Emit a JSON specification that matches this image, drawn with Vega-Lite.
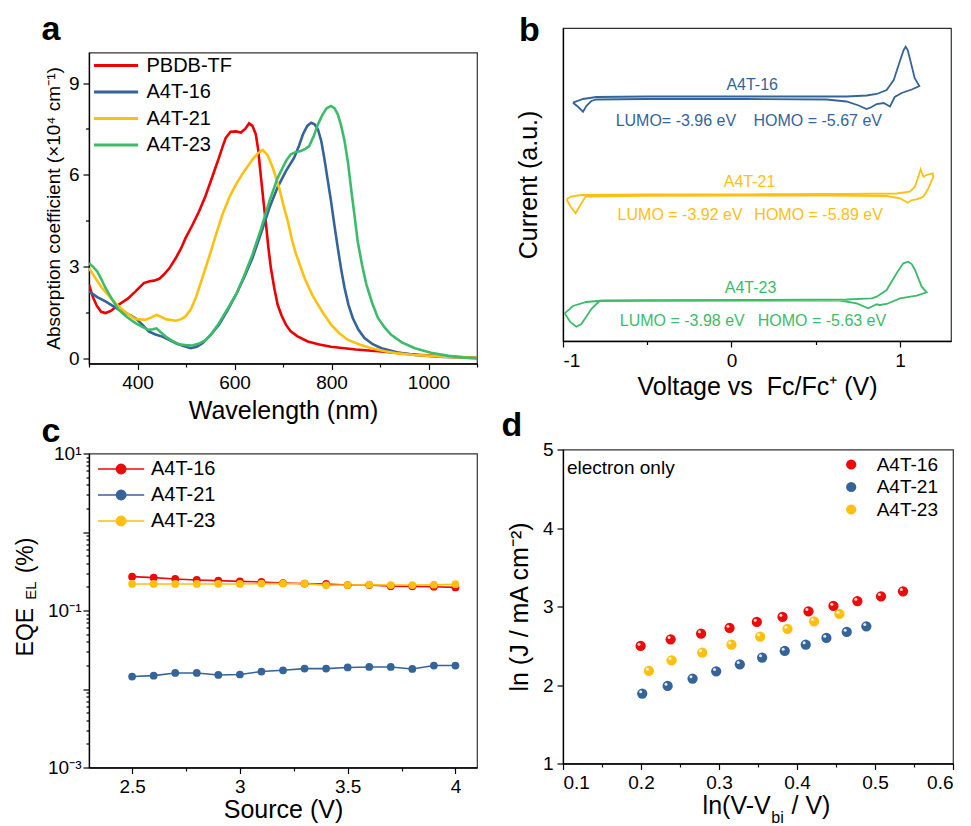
{
  "$schema": "https://vega.github.io/schema/vega-lite/v6.json",
  "padding": {"left": 13, "top": 4.5, "right": 2, "bottom": 1},
  "config": {
    "font": "Liberation Sans",
    "view": {"stroke": "#333", "strokeWidth": 1.2},
    "axis": {"grid": false, "domainColor": "#000", "domainWidth": 1.3, "tickColor": "#000", "tickWidth": 1.2, "labelColor": "#000", "titleColor": "#000", "labelFontSize": 19, "titleFontSize": 25, "titleFontWeight": "normal", "labelPadding": 4},
    "legend": {"labelFontSize": 20, "labelColor": "#000"},
    "title": {"color": "#000", "fontSize": 34, "fontWeight": "bold", "anchor": "start", "frame": "bounds"}
  },
  "datasets": {
    "abs": [
      {"s":"PBDB-TF","nm":300,"v":2.41},{"s":"PBDB-TF","nm":308,"v":2.0},{"s":"PBDB-TF","nm":316,"v":1.72},{"s":"PBDB-TF","nm":325,"v":1.52},{"s":"PBDB-TF","nm":334,"v":1.48},{"s":"PBDB-TF","nm":345,"v":1.55},{"s":"PBDB-TF","nm":361,"v":1.75},{"s":"PBDB-TF","nm":380,"v":1.95},{"s":"PBDB-TF","nm":396,"v":2.19},{"s":"PBDB-TF","nm":413,"v":2.46},{"s":"PBDB-TF","nm":425,"v":2.52},{"s":"PBDB-TF","nm":434,"v":2.54},{"s":"PBDB-TF","nm":445,"v":2.6},{"s":"PBDB-TF","nm":454,"v":2.73},{"s":"PBDB-TF","nm":466,"v":2.95},{"s":"PBDB-TF","nm":479,"v":3.28},{"s":"PBDB-TF","nm":490,"v":3.6},{"s":"PBDB-TF","nm":499,"v":3.93},{"s":"PBDB-TF","nm":513,"v":4.35},{"s":"PBDB-TF","nm":527,"v":4.81},{"s":"PBDB-TF","nm":540,"v":5.3},{"s":"PBDB-TF","nm":551,"v":5.79},{"s":"PBDB-TF","nm":560,"v":6.2},{"s":"PBDB-TF","nm":568,"v":6.56},{"s":"PBDB-TF","nm":575,"v":6.9},{"s":"PBDB-TF","nm":582,"v":7.21},{"s":"PBDB-TF","nm":592,"v":7.41},{"s":"PBDB-TF","nm":603,"v":7.42},{"s":"PBDB-TF","nm":613,"v":7.38},{"s":"PBDB-TF","nm":622,"v":7.5},{"s":"PBDB-TF","nm":630,"v":7.68},{"s":"PBDB-TF","nm":637,"v":7.6},{"s":"PBDB-TF","nm":644,"v":7.32},{"s":"PBDB-TF","nm":649,"v":6.8},{"s":"PBDB-TF","nm":654,"v":6.01},{"s":"PBDB-TF","nm":660,"v":5.1},{"s":"PBDB-TF","nm":665,"v":4.37},{"s":"PBDB-TF","nm":670,"v":3.6},{"s":"PBDB-TF","nm":675,"v":2.95},{"s":"PBDB-TF","nm":682,"v":2.3},{"s":"PBDB-TF","nm":689,"v":1.75},{"s":"PBDB-TF","nm":697,"v":1.4},{"s":"PBDB-TF","nm":706,"v":1.1},{"s":"PBDB-TF","nm":716,"v":0.88},{"s":"PBDB-TF","nm":730,"v":0.72},{"s":"PBDB-TF","nm":751,"v":0.55},{"s":"PBDB-TF","nm":775,"v":0.45},{"s":"PBDB-TF","nm":799,"v":0.38},{"s":"PBDB-TF","nm":850,"v":0.29},{"s":"PBDB-TF","nm":903,"v":0.22},{"s":"PBDB-TF","nm":950,"v":0.15},{"s":"PBDB-TF","nm":985,"v":0.11},{"s":"PBDB-TF","nm":1040,"v":0.06},{"s":"PBDB-TF","nm":1100,"v":0.02},
      {"s":"A4T-16","nm":300,"v":2.19},{"s":"A4T-16","nm":317,"v":2.0},{"s":"A4T-16","nm":334,"v":1.86},{"s":"A4T-16","nm":348,"v":1.72},{"s":"A4T-16","nm":361,"v":1.59},{"s":"A4T-16","nm":380,"v":1.45},{"s":"A4T-16","nm":396,"v":1.31},{"s":"A4T-16","nm":410,"v":1.1},{"s":"A4T-16","nm":423,"v":0.88},{"s":"A4T-16","nm":437,"v":0.78},{"s":"A4T-16","nm":451,"v":0.71},{"s":"A4T-16","nm":465,"v":0.6},{"s":"A4T-16","nm":479,"v":0.49},{"s":"A4T-16","nm":495,"v":0.4},{"s":"A4T-16","nm":510,"v":0.33},{"s":"A4T-16","nm":522,"v":0.38},{"s":"A4T-16","nm":534,"v":0.49},{"s":"A4T-16","nm":550,"v":0.75},{"s":"A4T-16","nm":568,"v":1.1},{"s":"A4T-16","nm":585,"v":1.55},{"s":"A4T-16","nm":603,"v":2.08},{"s":"A4T-16","nm":620,"v":2.65},{"s":"A4T-16","nm":637,"v":3.28},{"s":"A4T-16","nm":655,"v":4.1},{"s":"A4T-16","nm":672,"v":4.92},{"s":"A4T-16","nm":689,"v":5.6},{"s":"A4T-16","nm":706,"v":6.12},{"s":"A4T-16","nm":723,"v":6.56},{"s":"A4T-16","nm":733,"v":6.95},{"s":"A4T-16","nm":741,"v":7.32},{"s":"A4T-16","nm":750,"v":7.6},{"s":"A4T-16","nm":758,"v":7.7},{"s":"A4T-16","nm":765,"v":7.65},{"s":"A4T-16","nm":772,"v":7.49},{"s":"A4T-16","nm":779,"v":7.1},{"s":"A4T-16","nm":785,"v":6.56},{"s":"A4T-16","nm":792,"v":5.85},{"s":"A4T-16","nm":799,"v":5.14},{"s":"A4T-16","nm":806,"v":4.35},{"s":"A4T-16","nm":813,"v":3.61},{"s":"A4T-16","nm":820,"v":2.9},{"s":"A4T-16","nm":827,"v":2.3},{"s":"A4T-16","nm":835,"v":1.75},{"s":"A4T-16","nm":844,"v":1.31},{"s":"A4T-16","nm":855,"v":0.95},{"s":"A4T-16","nm":868,"v":0.66},{"s":"A4T-16","nm":885,"v":0.46},{"s":"A4T-16","nm":903,"v":0.33},{"s":"A4T-16","nm":935,"v":0.2},{"s":"A4T-16","nm":972,"v":0.11},{"s":"A4T-16","nm":1020,"v":0.05},{"s":"A4T-16","nm":1100,"v":0.0},
      {"s":"A4T-21","nm":300,"v":2.95},{"s":"A4T-21","nm":314,"v":2.6},{"s":"A4T-21","nm":327,"v":2.3},{"s":"A4T-21","nm":344,"v":1.98},{"s":"A4T-21","nm":361,"v":1.7},{"s":"A4T-21","nm":378,"v":1.47},{"s":"A4T-21","nm":396,"v":1.28},{"s":"A4T-21","nm":416,"v":1.26},{"s":"A4T-21","nm":428,"v":1.33},{"s":"A4T-21","nm":439,"v":1.42},{"s":"A4T-21","nm":448,"v":1.36},{"s":"A4T-21","nm":458,"v":1.28},{"s":"A4T-21","nm":479,"v":1.23},{"s":"A4T-21","nm":490,"v":1.28},{"s":"A4T-21","nm":499,"v":1.37},{"s":"A4T-21","nm":510,"v":1.6},{"s":"A4T-21","nm":520,"v":1.97},{"s":"A4T-21","nm":533,"v":2.6},{"s":"A4T-21","nm":547,"v":3.28},{"s":"A4T-21","nm":561,"v":4.0},{"s":"A4T-21","nm":575,"v":4.7},{"s":"A4T-21","nm":589,"v":5.25},{"s":"A4T-21","nm":603,"v":5.69},{"s":"A4T-21","nm":620,"v":6.12},{"s":"A4T-21","nm":637,"v":6.5},{"s":"A4T-21","nm":648,"v":6.7},{"s":"A4T-21","nm":658,"v":6.81},{"s":"A4T-21","nm":668,"v":6.65},{"s":"A4T-21","nm":679,"v":6.23},{"s":"A4T-21","nm":692,"v":5.57},{"s":"A4T-21","nm":701,"v":5.0},{"s":"A4T-21","nm":710,"v":4.48},{"s":"A4T-21","nm":718,"v":3.9},{"s":"A4T-21","nm":727,"v":3.4},{"s":"A4T-21","nm":745,"v":2.6},{"s":"A4T-21","nm":761,"v":2.05},{"s":"A4T-21","nm":782,"v":1.5},{"s":"A4T-21","nm":799,"v":1.1},{"s":"A4T-21","nm":816,"v":0.82},{"s":"A4T-21","nm":834,"v":0.6},{"s":"A4T-21","nm":858,"v":0.45},{"s":"A4T-21","nm":882,"v":0.33},{"s":"A4T-21","nm":910,"v":0.23},{"s":"A4T-21","nm":937,"v":0.16},{"s":"A4T-21","nm":970,"v":0.11},{"s":"A4T-21","nm":1006,"v":0.08},{"s":"A4T-21","nm":1050,"v":0.04},{"s":"A4T-21","nm":1100,"v":0.02},
      {"s":"A4T-23","nm":300,"v":3.11},{"s":"A4T-23","nm":308,"v":3.0},{"s":"A4T-23","nm":317,"v":2.84},{"s":"A4T-23","nm":325,"v":2.6},{"s":"A4T-23","nm":334,"v":2.3},{"s":"A4T-23","nm":348,"v":1.92},{"s":"A4T-23","nm":361,"v":1.59},{"s":"A4T-23","nm":378,"v":1.35},{"s":"A4T-23","nm":396,"v":1.15},{"s":"A4T-23","nm":410,"v":1.03},{"s":"A4T-23","nm":423,"v":0.93},{"s":"A4T-23","nm":432,"v":0.95},{"s":"A4T-23","nm":439,"v":0.98},{"s":"A4T-23","nm":448,"v":0.85},{"s":"A4T-23","nm":458,"v":0.71},{"s":"A4T-23","nm":471,"v":0.58},{"s":"A4T-23","nm":485,"v":0.46},{"s":"A4T-23","nm":499,"v":0.43},{"s":"A4T-23","nm":513,"v":0.42},{"s":"A4T-23","nm":527,"v":0.48},{"s":"A4T-23","nm":541,"v":0.6},{"s":"A4T-23","nm":555,"v":0.85},{"s":"A4T-23","nm":568,"v":1.15},{"s":"A4T-23","nm":585,"v":1.6},{"s":"A4T-23","nm":603,"v":2.08},{"s":"A4T-23","nm":620,"v":2.7},{"s":"A4T-23","nm":637,"v":3.39},{"s":"A4T-23","nm":655,"v":4.25},{"s":"A4T-23","nm":672,"v":5.14},{"s":"A4T-23","nm":689,"v":5.9},{"s":"A4T-23","nm":706,"v":6.45},{"s":"A4T-23","nm":716,"v":6.67},{"s":"A4T-23","nm":727,"v":6.75},{"s":"A4T-23","nm":737,"v":6.78},{"s":"A4T-23","nm":746,"v":6.85},{"s":"A4T-23","nm":754,"v":6.94},{"s":"A4T-23","nm":763,"v":7.25},{"s":"A4T-23","nm":772,"v":7.65},{"s":"A4T-23","nm":781,"v":7.95},{"s":"A4T-23","nm":790,"v":8.18},{"s":"A4T-23","nm":799,"v":8.25},{"s":"A4T-23","nm":806,"v":8.18},{"s":"A4T-23","nm":813,"v":7.98},{"s":"A4T-23","nm":820,"v":7.6},{"s":"A4T-23","nm":827,"v":7.1},{"s":"A4T-23","nm":834,"v":6.4},{"s":"A4T-23","nm":841,"v":5.47},{"s":"A4T-23","nm":848,"v":4.6},{"s":"A4T-23","nm":854,"v":3.83},{"s":"A4T-23","nm":863,"v":3.05},{"s":"A4T-23","nm":872,"v":2.41},{"s":"A4T-23","nm":884,"v":1.8},{"s":"A4T-23","nm":896,"v":1.31},{"s":"A4T-23","nm":910,"v":1.0},{"s":"A4T-23","nm":923,"v":0.77},{"s":"A4T-23","nm":945,"v":0.52},{"s":"A4T-23","nm":972,"v":0.33},{"s":"A4T-23","nm":1005,"v":0.18},{"s":"A4T-23","nm":1041,"v":0.08},{"s":"A4T-23","nm":1070,"v":0.03},{"s":"A4T-23","nm":1100,"v":0.0}
    ],
    "cv": [
      {"s":"A4T-16","k":1,"V":-0.941,"I":238.3},{"s":"A4T-16","k":2,"V":-0.881,"I":242},{"s":"A4T-16","k":3,"V":-0.802,"I":244},{"s":"A4T-16","k":4,"V":-0.505,"I":244.5},{"s":"A4T-16","k":5,"V":0.089,"I":244.5},{"s":"A4T-16","k":6,"V":0.683,"I":244.5},{"s":"A4T-16","k":7,"V":0.802,"I":245.5},{"s":"A4T-16","k":8,"V":0.862,"I":247},{"s":"A4T-16","k":9,"V":0.921,"I":251},{"s":"A4T-16","k":10,"V":0.963,"I":261},{"s":"A4T-16","k":11,"V":0.998,"I":279},{"s":"A4T-16","k":12,"V":1.022,"I":291},{"s":"A4T-16","k":13,"V":1.034,"I":294.3},{"s":"A4T-16","k":14,"V":1.046,"I":291},{"s":"A4T-16","k":15,"V":1.064,"I":279},{"s":"A4T-16","k":16,"V":1.087,"I":263},{"s":"A4T-16","k":17,"V":1.115,"I":255},{"s":"A4T-16","k":18,"V":1.07,"I":251.5},{"s":"A4T-16","k":19,"V":1.01,"I":248},{"s":"A4T-16","k":20,"V":0.969,"I":244},{"s":"A4T-16","k":21,"V":0.941,"I":234.5},{"s":"A4T-16","k":22,"V":0.903,"I":238},{"s":"A4T-16","k":23,"V":0.862,"I":237},{"s":"A4T-16","k":24,"V":0.832,"I":234},{"s":"A4T-16","k":25,"V":0.802,"I":232},{"s":"A4T-16","k":26,"V":0.755,"I":235.5},{"s":"A4T-16","k":27,"V":0.683,"I":239.5},{"s":"A4T-16","k":28,"V":0.564,"I":241.5},{"s":"A4T-16","k":29,"V":0.089,"I":242},{"s":"A4T-16","k":30,"V":-0.505,"I":242},{"s":"A4T-16","k":31,"V":-0.802,"I":241.5},{"s":"A4T-16","k":32,"V":-0.832,"I":240},{"s":"A4T-16","k":33,"V":-0.862,"I":235},{"s":"A4T-16","k":34,"V":-0.881,"I":229.3},{"s":"A4T-16","k":35,"V":-0.909,"I":234},{"s":"A4T-16","k":36,"V":-0.941,"I":238.3},
      {"s":"A4T-21","k":1,"V":-0.98,"I":141.7},{"s":"A4T-21","k":2,"V":-0.951,"I":144.5},{"s":"A4T-21","k":3,"V":-0.891,"I":146},{"s":"A4T-21","k":4,"V":-0.505,"I":146.5},{"s":"A4T-21","k":5,"V":0.089,"I":146.7},{"s":"A4T-21","k":6,"V":0.683,"I":147},{"s":"A4T-21","k":7,"V":0.98,"I":147.5},{"s":"A4T-21","k":8,"V":1.059,"I":149.3},{"s":"A4T-21","k":9,"V":1.089,"I":154.3},{"s":"A4T-21","k":10,"V":1.109,"I":164.3},{"s":"A4T-21","k":11,"V":1.123,"I":171.7},{"s":"A4T-21","k":12,"V":1.139,"I":164.3},{"s":"A4T-21","k":13,"V":1.159,"I":166},{"s":"A4T-21","k":14,"V":1.194,"I":167.7},{"s":"A4T-21","k":15,"V":1.198,"I":164.3},{"s":"A4T-21","k":16,"V":1.169,"I":152.7},{"s":"A4T-21","k":17,"V":1.139,"I":144.3},{"s":"A4T-21","k":18,"V":1.099,"I":141.7},{"s":"A4T-21","k":19,"V":1.07,"I":141},{"s":"A4T-21","k":20,"V":1.046,"I":138.3},{"s":"A4T-21","k":21,"V":1.0,"I":142.7},{"s":"A4T-21","k":22,"V":0.921,"I":145},{"s":"A4T-21","k":23,"V":0.564,"I":145.3},{"s":"A4T-21","k":24,"V":0.089,"I":145.3},{"s":"A4T-21","k":25,"V":-0.505,"I":145.2},{"s":"A4T-21","k":26,"V":-0.866,"I":144.3},{"s":"A4T-21","k":27,"V":-0.897,"I":136},{"s":"A4T-21","k":28,"V":-0.925,"I":127.7},{"s":"A4T-21","k":29,"V":-0.957,"I":135},{"s":"A4T-21","k":30,"V":-0.98,"I":141.7},
      {"s":"A4T-23","k":1,"V":-0.99,"I":27.7},{"s":"A4T-23","k":2,"V":-0.941,"I":35},{"s":"A4T-23","k":3,"V":-0.862,"I":39},{"s":"A4T-23","k":4,"V":-0.762,"I":40.5},{"s":"A4T-23","k":5,"V":-0.505,"I":40.8},{"s":"A4T-23","k":6,"V":0.089,"I":41},{"s":"A4T-23","k":7,"V":0.683,"I":41.5},{"s":"A4T-23","k":8,"V":0.832,"I":42.7},{"s":"A4T-23","k":9,"V":0.862,"I":44.3},{"s":"A4T-23","k":10,"V":0.921,"I":51},{"s":"A4T-23","k":11,"V":0.98,"I":67.7},{"s":"A4T-23","k":12,"V":1.02,"I":77.7},{"s":"A4T-23","k":13,"V":1.05,"I":79.3},{"s":"A4T-23","k":14,"V":1.07,"I":77},{"s":"A4T-23","k":15,"V":1.089,"I":71},{"s":"A4T-23","k":16,"V":1.129,"I":54.3},{"s":"A4T-23","k":17,"V":1.159,"I":48.7},{"s":"A4T-23","k":18,"V":1.099,"I":45.3},{"s":"A4T-23","k":19,"V":1.0,"I":42.7},{"s":"A4T-23","k":20,"V":0.921,"I":37},{"s":"A4T-23","k":21,"V":0.881,"I":36},{"s":"A4T-23","k":22,"V":0.862,"I":36.7},{"s":"A4T-23","k":23,"V":0.812,"I":32.7},{"s":"A4T-23","k":24,"V":0.743,"I":37.7},{"s":"A4T-23","k":25,"V":0.644,"I":40.5},{"s":"A4T-23","k":26,"V":0.564,"I":40.5},{"s":"A4T-23","k":27,"V":0.089,"I":40.3},{"s":"A4T-23","k":28,"V":-0.505,"I":40.2},{"s":"A4T-23","k":29,"V":-0.783,"I":40},{"s":"A4T-23","k":30,"V":-0.832,"I":32},{"s":"A4T-23","k":31,"V":-0.862,"I":24.3},{"s":"A4T-23","k":32,"V":-0.891,"I":17},{"s":"A4T-23","k":33,"V":-0.921,"I":14.3},{"s":"A4T-23","k":34,"V":-0.957,"I":19},{"s":"A4T-23","k":35,"V":-0.99,"I":27.7}
    ],
    "cvlabels": [
      {"s":"A4T-16","t":"A4T-16","V":0.123,"I":256},{"s":"A4T-16","t":"LUMO= -3.96 eV","V":-0.33,"I":220.3},{"s":"A4T-16","t":"HOMO = -5.67 eV","V":0.512,"I":220.3},
      {"s":"A4T-21","t":"A4T-21","V":0.107,"I":159.3},{"s":"A4T-21","t":"LUMO = -3.92 eV","V":-0.305,"I":126},{"s":"A4T-21","t":"HOMO = -5.89 eV","V":0.517,"I":126},
      {"s":"A4T-23","t":"A4T-23","V":0.113,"I":53},{"s":"A4T-23","t":"LUMO = -3.98 eV","V":-0.292,"I":20.3},{"s":"A4T-23","t":"HOMO = -5.63 eV","V":0.537,"I":20.3}
    ],
    "eqe": [
      {"s":"A4T-16","v":2.5,"e":0.270},{"s":"A4T-16","v":2.6,"e":0.262},{"s":"A4T-16","v":2.7,"e":0.252},{"s":"A4T-16","v":2.8,"e":0.245},{"s":"A4T-16","v":2.9,"e":0.240},{"s":"A4T-16","v":3.0,"e":0.235},{"s":"A4T-16","v":3.1,"e":0.231},{"s":"A4T-16","v":3.2,"e":0.224},{"s":"A4T-16","v":3.3,"e":0.220},{"s":"A4T-16","v":3.4,"e":0.218},{"s":"A4T-16","v":3.5,"e":0.211},{"s":"A4T-16","v":3.6,"e":0.211},{"s":"A4T-16","v":3.7,"e":0.204},{"s":"A4T-16","v":3.8,"e":0.203},{"s":"A4T-16","v":3.9,"e":0.201},{"s":"A4T-16","v":4.0,"e":0.197},
      {"s":"A4T-21","v":2.5,"e":0.0144},{"s":"A4T-21","v":2.6,"e":0.0148},{"s":"A4T-21","v":2.7,"e":0.0160},{"s":"A4T-21","v":2.8,"e":0.0160},{"s":"A4T-21","v":2.9,"e":0.0151},{"s":"A4T-21","v":3.0,"e":0.0153},{"s":"A4T-21","v":3.1,"e":0.0167},{"s":"A4T-21","v":3.2,"e":0.0173},{"s":"A4T-21","v":3.3,"e":0.0182},{"s":"A4T-21","v":3.4,"e":0.0182},{"s":"A4T-21","v":3.5,"e":0.0188},{"s":"A4T-21","v":3.6,"e":0.0191},{"s":"A4T-21","v":3.7,"e":0.0191},{"s":"A4T-21","v":3.8,"e":0.0180},{"s":"A4T-21","v":3.9,"e":0.0199},{"s":"A4T-21","v":4.0,"e":0.0199},
      {"s":"A4T-23","v":2.5,"e":0.218},{"s":"A4T-23","v":2.6,"e":0.218},{"s":"A4T-23","v":2.7,"e":0.218},{"s":"A4T-23","v":2.8,"e":0.218},{"s":"A4T-23","v":2.9,"e":0.218},{"s":"A4T-23","v":3.0,"e":0.218},{"s":"A4T-23","v":3.1,"e":0.220},{"s":"A4T-23","v":3.2,"e":0.220},{"s":"A4T-23","v":3.3,"e":0.220},{"s":"A4T-23","v":3.4,"e":0.209},{"s":"A4T-23","v":3.5,"e":0.211},{"s":"A4T-23","v":3.6,"e":0.213},{"s":"A4T-23","v":3.7,"e":0.211},{"s":"A4T-23","v":3.8,"e":0.211},{"s":"A4T-23","v":3.9,"e":0.213},{"s":"A4T-23","v":4.0,"e":0.216}
    ],
    "sclc": [
      {"s":"A4T-16","x":0.1995,"y":2.497},{"s":"A4T-16","x":0.238,"y":2.582},{"s":"A4T-16","x":0.277,"y":2.654},{"s":"A4T-16","x":0.3135,"y":2.727},{"s":"A4T-16","x":0.3485,"y":2.803},{"s":"A4T-16","x":0.3814,"y":2.867},{"s":"A4T-16","x":0.4147,"y":2.939},{"s":"A4T-16","x":0.4467,"y":3.007},{"s":"A4T-16","x":0.4774,"y":3.07},{"s":"A4T-16","x":0.5077,"y":3.129},{"s":"A4T-16","x":0.5359,"y":3.193},
      {"s":"A4T-21","x":0.2016,"y":1.891},{"s":"A4T-21","x":0.2341,"y":1.988},{"s":"A4T-21","x":0.2661,"y":2.082},{"s":"A4T-21","x":0.2964,"y":2.175},{"s":"A4T-21","x":0.3267,"y":2.264},{"s":"A4T-21","x":0.3553,"y":2.349},{"s":"A4T-21","x":0.3843,"y":2.434},{"s":"A4T-21","x":0.4112,"y":2.514},{"s":"A4T-21","x":0.4377,"y":2.599},{"s":"A4T-21","x":0.4638,"y":2.676},{"s":"A4T-21","x":0.4889,"y":2.748},
      {"s":"A4T-23","x":0.2102,"y":2.179},{"s":"A4T-23","x":0.2392,"y":2.315},{"s":"A4T-23","x":0.2785,"y":2.413},{"s":"A4T-23","x":0.316,"y":2.514},{"s":"A4T-23","x":0.3528,"y":2.616},{"s":"A4T-23","x":0.3878,"y":2.714},{"s":"A4T-23","x":0.4219,"y":2.811},{"s":"A4T-23","x":0.4544,"y":2.905}
    ],
    "note": [{"t":"electron only","x":0.105,"y":4.77}]
  },
  "spacing": 21,
  "resolve": {"scale": {"color": "independent"}},
  "hconcat": [
    {
      "vconcat": [
        {
          "width": 388, "height": 18,
          "data": {"values": []},
          "mark": {"type": "rule", "opacity": 0},
          "encoding": {},
          "view": {"stroke": null, "fill": "transparent"}
        },
        {
          "width": 388, "height": 311,
          "title": {"text": "a", "offset": 5.5, "dx": -3},
          "data": {"name": "abs"},
          "mark": {"type": "line", "strokeWidth": 2.6, "clip": true},
          "encoding": {
            "x": {"field": "nm", "type": "quantitative", "scale": {"domain": [300, 1100], "nice": false, "zero": false},
              "axis": {"title": "Wavelength (nm)", "values": [300,400,500,600,700,800,900,1000,1100], "format": "d", "labelExpr": "datum.value % 200 == 0 ? datum.label : ''", "tickSize": {"condition": {"test": "datum.value % 200 == 0", "value": 6}, "value": 3.5}, "titlePadding": 6}},
            "y": {"field": "v", "type": "quantitative", "scale": {"domain": [-0.17, 10.0], "nice": false, "zero": false},
              "axis": {"title": "Absorption coefficient (×10⁴ cm⁻¹)", "titleFontSize": 19, "values": [0,1.5,3,4.5,6,7.5,9], "format": "d", "labelExpr": "datum.value % 3 == 0 ? datum.label : ''", "tickSize": {"condition": {"test": "datum.value % 3 == 0", "value": 6}, "value": 3.5}, "titlePadding": 5}},
            "color": {"field": "s", "type": "nominal", "sort": null,
              "scale": {"domain": ["PBDB-TF","A4T-16","A4T-21","A4T-23"], "range": ["#ee0000","#35649a","#fec010","#3cbc6a"]},
              "legend": {"title": null, "orient": "none", "legendX": 3.5, "legendY": 1, "padding": 0, "symbolType": "M-1,0H3.2", "symbolSize": 441, "symbolStrokeWidth": 3, "labelOffset": 30, "rowPadding": 4.5, "labelFontSize": 20, "labelLimit": 300}}
          }
        },
        {
          "width": 388, "height": 314,
          "title": {"text": "c", "offset": -4.5, "dx": 27},
          "data": {"name": "eqe"},
          "encoding": {
            "x": {"field": "v", "type": "quantitative", "scale": {"domain": [2.3, 4.1], "nice": false, "zero": false},
              "axis": {"title": "Source (V)", "values": [2.5,2.75,3,3.25,3.5,3.75,4], "labelExpr": "abs(datum.value*2 - round(datum.value*2)) < 1e-6 ? format(datum.value, '~g') : ''", "tickSize": {"condition": {"test": "abs(datum.value*2 - round(datum.value*2)) < 1e-6", "value": 6}, "value": 3.5}, "titlePadding": 1}},
            "color": {"field": "s", "type": "nominal", "sort": null,
              "scale": {"domain": ["A4T-16","A4T-21","A4T-23"], "range": ["#ee0a0a","#35649a","#fec010"]},
              "legend": {"title": null, "orient": "none", "legendX": 8, "legendY": 4, "padding": 0, "symbolType": "M-1,0H0.75M1.65,0H3.4M0.75,0A0.45,0.45,0,1,0,1.65,0A0.45,0.45,0,1,0,0.75,0", "symbolSize": 441, "symbolStrokeWidth": 1.5, "labelOffset": 31, "rowPadding": 4, "labelFontSize": 20, "labelLimit": 300}}
          },
          "layer": [
            {"mark": {"type": "line", "strokeWidth": 1.6},
             "encoding": {"y": {"field": "e", "type": "quantitative", "scale": {"type": "log", "domain": [0.001, 10], "nice": false},
               "axis": {"title": "EQE\u2003\u2002(%)", "titleFontSize": 23, "titleY": 143, "titleAlign": "center", "values": [0.001,0.002,0.003,0.004,0.005,0.006,0.007,0.008,0.009,0.01,0.02,0.03,0.04,0.05,0.06,0.07,0.08,0.09,0.1,0.2,0.3,0.4,0.5,0.6,0.7,0.8,0.9,1,2,3,4,5,6,7,8,9,10],
                 "labelExpr": "datum.value == 10 ? '10¹' : (datum.value == 0.1 ? '10⁻¹' : (datum.value == 0.001 ? '10⁻³' : ''))",
                 "tickSize": {"condition": {"test": "abs(log(datum.value)/LN10 - round(log(datum.value)/LN10)) < 1e-6", "value": 6}, "value": 3}, "labelPadding": 2, "titlePadding": 10}}}},
            {"mark": {"type": "point", "filled": true, "size": 60, "opacity": 1},
             "encoding": {"y": {"field": "e", "type": "quantitative", "scale": {"type": "log", "domain": [0.001, 10], "nice": false},
               "axis": {"orient": "left", "title": "EL", "titleFontSize": 15, "labels": false, "ticks": false, "domain": false, "titleX": -53.7, "titleY": 136.5, "titleAngle": -90, "titleAlign": "center", "titleBaseline": "alphabetic"}}}}
          ],
          "resolve": {"axis": {"y": "independent"}}
        }
      ],
      "spacing": -11,
      "resolve": {"scale": {"color": "independent"}}
    },
    {
      "vconcat": [
        {
          "width": 388, "height": 1,
          "data": {"values": []},
          "mark": {"type": "rule", "opacity": 0},
          "encoding": {},
          "view": {"stroke": null, "fill": "transparent"}
        },
        {
          "width": 388, "height": 313,
          "title": {"text": "b", "offset": -20, "dx": 3},
          "encoding": {
            "x": {"field": "V", "type": "quantitative", "scale": {"domain": [-1, 1.303], "nice": false, "zero": false},
              "axis": {"title": "Voltage vs\u00a0 Fc/Fc⁺ (V)", "values": [-1,-0.5,0,0.5,1], "labelExpr": "datum.value == -1 ? '-1' : (datum.value == 0 ? '0' : (datum.value == 1 ? '1' : ''))", "tickSize": {"condition": {"test": "datum.value % 1 == 0", "value": 6}, "value": 3.5}, "titlePadding": 4}},
            "y": {"field": "I", "type": "quantitative", "scale": {"domain": [0, 313], "nice": false, "zero": false},
              "axis": {"title": "Current (a.u.)", "labels": false, "ticks": false, "titlePadding": 22}},
            "color": {"field": "s", "type": "nominal", "sort": null,
              "scale": {"domain": ["A4T-16","A4T-21","A4T-23"], "range": ["#35649a","#fec010","#3cbc6a"]}, "legend": null}
          },
          "layer": [
            {"data": {"name": "cv"}, "mark": {"type": "line", "strokeWidth": 1.8}, "encoding": {"order": {"field": "k", "type": "quantitative"}}},
            {"data": {"name": "cvlabels"}, "mark": {"type": "text", "fontSize": 16, "align": "center", "baseline": "middle"}, "encoding": {"text": {"field": "t"}}}
          ]
        },
        {
          "width": 390, "height": 314,
          "title": {"text": "d", "offset": -2.5, "dx": -6},
          "encoding": {
            "y": {"field": "y", "type": "quantitative", "scale": {"domain": [1, 5], "nice": false, "zero": false},
              "axis": {"title": "ln (J / mA cm⁻²)", "values": [1,1.5,2,2.5,3,3.5,4,4.5,5], "format": "d", "labelExpr": "datum.value % 1 == 0 ? datum.label : ''", "tickSize": {"condition": {"test": "datum.value % 1 == 0", "value": 6}, "value": 3.5}, "titlePadding": 10}}
          },
          "layer": [
            {"data": {"name": "sclc"}, "mark": {"type": "circle", "size": 105, "opacity": 1},
             "encoding": {
               "x": {"field": "x", "type": "quantitative", "scale": {"domain": [0.1, 0.6], "nice": false, "zero": false},
                 "axis": {"orient": "bottom", "title": "ln(V-V\u00a0\u00a0 / V)", "titleX": 203, "titleAlign": "center", "values": [0.1,0.15,0.2,0.25,0.3,0.35,0.4,0.45,0.5,0.55,0.6], "format": ".1f", "labelExpr": "abs(datum.value*10 - round(datum.value*10)) < 1e-6 ? datum.label : ''", "tickSize": {"condition": {"test": "abs(datum.value*10 - round(datum.value*10)) < 1e-6", "value": 6}, "value": 3.5}, "titlePadding": 1}},
               "color": {"field": "s", "type": "nominal", "sort": null,
                 "scale": {"domain": ["A4T-16","A4T-21","A4T-23"], "range": ["#ee0a0a","#35649a","#fec010"]},
                 "legend": {"title": null, "orient": "none", "legendX": 278.7, "legendY": 5.5, "padding": 0, "symbolType": "circle", "symbolSize": 105, "labelOffset": 16, "rowPadding": 2.5, "labelFontSize": 19, "labelLimit": 300}}
             }},
            {"data": {"name": "sclc"}, "mark": {"type": "circle", "size": 9, "color": "#ffffff", "opacity": 0.85, "xOffset": -1.6, "yOffset": -1.8},
             "encoding": {"x": {"field": "x", "type": "quantitative", "scale": {"domain": [0.1, 0.6], "nice": false, "zero": false}, "axis": null}}},
            {"data": {"name": "note"}, "mark": {"type": "text", "align": "left", "baseline": "middle", "fontSize": 19, "color": "#000"},
             "encoding": {
               "x": {"field": "x", "type": "quantitative", "scale": {"domain": [0.1, 0.6], "nice": false, "zero": false},
                 "axis": {"orient": "bottom", "title": "bi", "titleFontSize": 16, "labels": false, "ticks": false, "domain": false, "titleX": 214, "titleY": 59, "titleAlign": "center", "titleBaseline": "alphabetic"}},
               "text": {"field": "t"}
             }}
          ],
          "resolve": {"axis": {"x": "independent"}}
        }
      ],
      "spacing": 7.5,
      "resolve": {"scale": {"color": "independent"}}
    }
  ]
}
